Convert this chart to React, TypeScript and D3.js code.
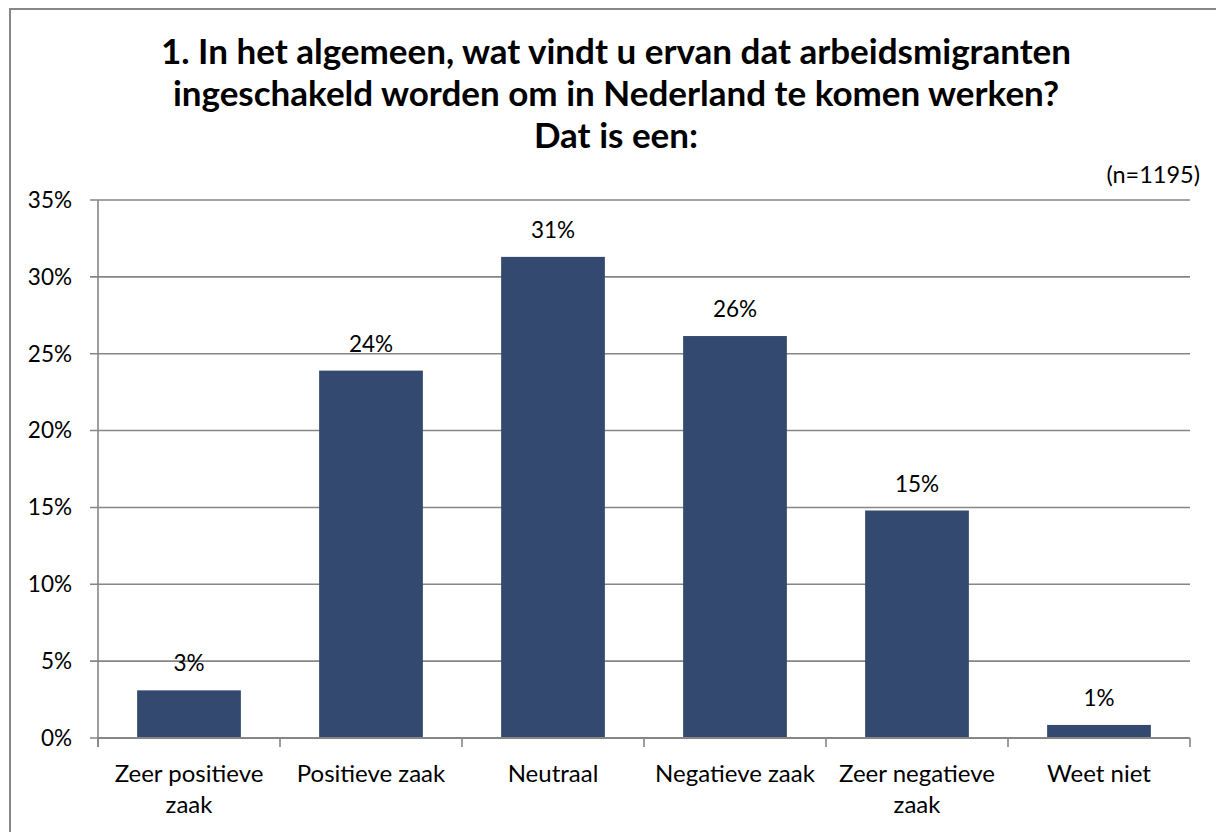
import React from "react";
import * as d3 from "d3";

const titleLines = [
  "1. In het algemeen, wat vindt u ervan dat arbeidsmigranten",
  "ingeschakeld worden om in Nederland te komen werken?",
  "Dat is een:",
];
const categories = [
  "Zeer positieve zaak",
  "Positieve zaak",
  "Neutraal",
  "Negatieve zaak",
  "Zeer negatieve zaak",
  "Weet niet",
];
const categoryLines = [
  ["Zeer positieve", "zaak"],
  ["Positieve zaak"],
  ["Neutraal"],
  ["Negatieve zaak"],
  ["Zeer negatieve", "zaak"],
  ["Weet niet"],
];
const values = [3.1, 23.9, 31.3, 26.15, 14.8, 0.85];
const valueLabels = ["3%", "24%", "31%", "26%", "15%", "1%"];
const yTicks = [0, 5, 10, 15, 20, 25, 30, 35];
const note = "(n=1195)";

const W = 1216;
const H = 832;
const FONT = "Lato, 'Open Sans', sans-serif";
const GRID = "#868686";
const BAR = "#34496f";

export default function App() {
  const left = 98;
  const right = 1190;
  const top = 200;
  const bottom = 738;

  const x = d3
    .scaleBand<string>()
    .domain(categories)
    .range([left, right])
    .paddingInner(0.43)
    .paddingOuter(0.215);
  const y = d3.scaleLinear().domain([0, 35]).range([bottom, top]);
  const step = x.step();
  const boundaries = d3.range(categories.length + 1).map((i) => left + i * step);

  return (
    <svg
      width={W}
      height={H}
      style={{ position: "absolute", left: 0, top: 0, background: "#fff" }}
      fontFamily={FONT}
    >
      <rect x={0} y={0} width={W} height={H} fill="#fff" />
      <rect x={10} y={9} width={W + 20} height={H + 20} fill="none" stroke="#878787" strokeWidth={2} />

      {titleLines.map((t, i) => (
        <text
          key={i}
          x={616}
          y={64 + i * 42}
          textAnchor="middle"
          fontSize={35}
          fontWeight="bold"
          fill="#000"
        >
          {t}
        </text>
      ))}

      <text x={1200} y={183} textAnchor="end" fontSize={23.5} fill="#000">
        {note}
      </text>

      {/* gridlines and y ticks */}
      {yTicks.map((t) => (
        <g key={t}>
          <line x1={90} x2={right} y1={y(t)} y2={y(t)} stroke={GRID} strokeWidth={1.6} />
          <text
            x={72}
            y={y(t)}
            dy="0.35em"
            textAnchor="end"
            fontSize={22.5}
            fill="#000"
          >
            {t}%
          </text>
        </g>
      ))}

      {/* y axis line */}
      <line x1={left} x2={left} y1={top} y2={bottom + 9} stroke={GRID} strokeWidth={1.6} />

      {/* bars */}
      {categories.map((c, i) => (
        <g key={c}>
          <rect
            x={x(c)}
            y={y(values[i])}
            width={x.bandwidth()}
            height={bottom - y(values[i])}
            fill={BAR}
          />
          <text
            x={(x(c) as number) + x.bandwidth() / 2}
            y={y(values[i]) - 19}
            textAnchor="middle"
            fontSize={22.5}
            fill="#000"
          >
            {valueLabels[i]}
          </text>
        </g>
      ))}

      {/* x axis */}
      <line x1={left} x2={right} y1={bottom} y2={bottom} stroke={GRID} strokeWidth={2.2} />
      {boundaries.map((b, i) => (
        <line key={i} x1={b} x2={b} y1={bottom} y2={bottom + 9} stroke={GRID} strokeWidth={1.6} />
      ))}

      {categories.map((c, i) => (
        <text
          key={c}
          x={(x(c) as number) + x.bandwidth() / 2}
          y={782}
          textAnchor="middle"
          fontSize={24}
          fill="#000"
        >
          {categoryLines[i].map((l, j) => (
            <tspan key={j} x={(x(c) as number) + x.bandwidth() / 2} dy={j === 0 ? 0 : 31}>
              {l}
            </tspan>
          ))}
        </text>
      ))}
    </svg>
  );
}
